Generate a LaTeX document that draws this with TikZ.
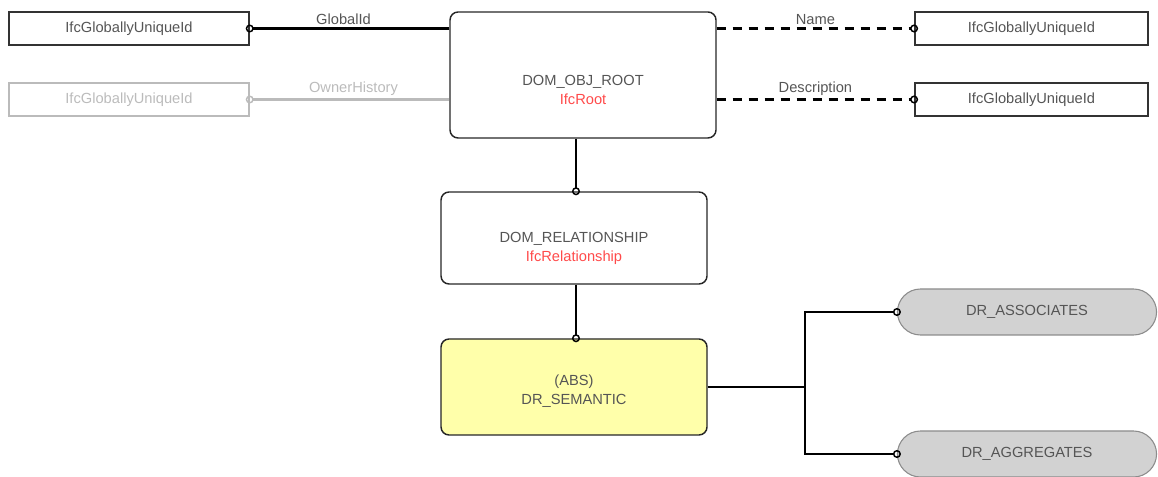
\documentclass[tikz,border=0pt]{standalone}
\usepackage{fontspec}
\setmainfont{Liberation Sans}
\usetikzlibrary{shapes.misc,arrows.meta}
\definecolor{txtgray}{HTML}{555555}
\definecolor{ghostgray}{HTML}{BBBBBB}
\definecolor{ifcred}{HTML}{FF4A4A}
\definecolor{absyellow}{HTML}{FFFFAA}
\definecolor{pillgray}{HTML}{D2D2D2}
\tikzstyle{line} = [draw, line width=2.2pt, shorten >=-3pt, -{Circle[open,length=6pt,line width=1.1pt]}]
\tikzstyle{link} = [draw, line width=2.2pt]
\tikzstyle{attr} = [rectangle, draw=black!80, line width=1.1pt, minimum width=175pt, minimum height=24.75pt, inner sep=0pt]
\tikzstyle{entity} = [rectangle, draw=black!85, line width=1.1pt, rounded corners=6pt, minimum width=199.5pt, inner sep=0pt]
\tikzstyle{pill} = [rounded rectangle, draw=black!45, fill=pillgray, line width=0.8pt, minimum width=201pt, minimum height=34.5pt]

\begin{document}
\begin{tikzpicture}[x=0.75pt, y=-0.75pt, font=\fontsize{11}{14}\selectfont, text=txtgray]
	\tikzset{every label/.style={align=center, text=txtgray}, ghost/.style={draw=ghostgray, text=ghostgray}}
	\useasboundingbox (0,0) rectangle (1158,477);
	% attribute types
	\node [attr, minimum width=180pt] (gid) at (129,28.5) {IfcGloballyUniqueId};
	\node [attr, ghost, minimum width=180pt] (ownerhist) at (129,99.5) {IfcGloballyUniqueId};
	\node [attr] (name) at (1031.5,28.5) {IfcGloballyUniqueId};
	\node [attr] (descr) at (1031.5,99.5) {IfcGloballyUniqueId};
	% entity chain
	\node [entity, minimum height=94.5pt, label={[yshift=-11pt]center:DOM\_OBJ\_ROOT\\\textcolor{ifcred}{IfcRoot}}] (root) at (583,75) {};
	\node [entity, minimum height=69pt, label={[yshift=-8pt]center:DOM\_RELATIONSHIP\\\textcolor{ifcred}{IfcRelationship}}] (rel) at (574,238) {};
	\node [entity, fill=absyellow, minimum height=72pt, label={[yshift=-3pt]center:(ABS)\\DR\_SEMANTIC}] (semantic) at (574,387) {};
	% subtypes
	\node [pill] (assoc) at (1027,312) {DR\_ASSOCIATES};
	\node [pill] (aggr) at (1027,454) {DR\_AGGREGATES};
	\coordinate (fork) at (805,387);
	% attributes
	\path [line] (gid.east -| root.west) -- node[above, pos=0.53, inner sep=2pt] {GlobalId} (gid.east);
	\path [line, ghostgray] (ownerhist.east -| root.west) -- node[above, pos=0.48, inner sep=2pt, text=ghostgray] {OwnerHistory} (ownerhist.east);
	\path [line, dashed, dash pattern=on 7pt off 5pt] (name.west -| root.east) -- node[above, pos=0.5, inner sep=2pt] {Name} (name.west);
	\path [line, dashed, dash pattern=on 7pt off 5pt] (descr.west -| root.east) -- node[above, pos=0.5, inner sep=2pt] {Description} (descr.west);
	% inheritance
	\path [line] (root.south -| rel.north) ++(2,0) -- ([xshift=1.5pt]rel.north);
	\path [line] (rel.south) ++(2,0) -- ([xshift=1.5pt]semantic.north);
	\path [link] (semantic.east) -- (fork);
	\path [line] (fork) |- (assoc.west);
	\path [line] (fork) |- (aggr.west);
\end{tikzpicture}
\end{document}
